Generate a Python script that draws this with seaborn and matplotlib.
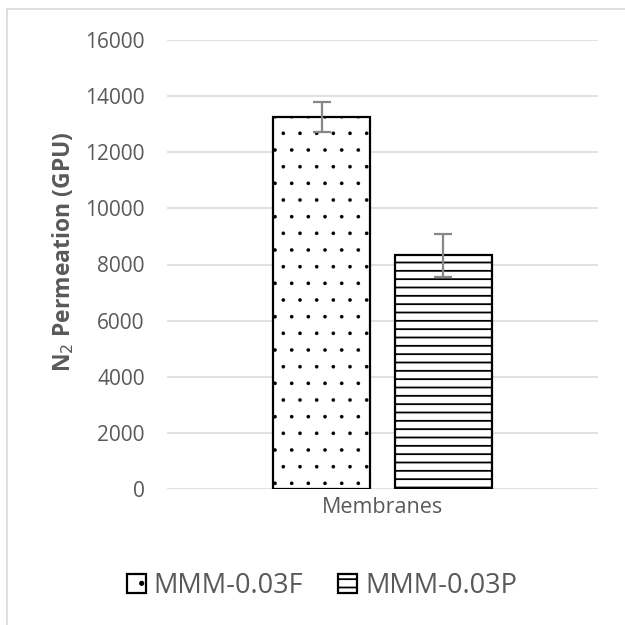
import pandas as pd
import matplotlib.pyplot as plt
import seaborn as sns
from matplotlib.lines import Line2D

# --- datos ---
CATEGORY = ['Membranes', 'Membranes']
MEMBRANES = ['MMM-0.03F', 'MMM-0.03P']
PERMEATION = [13260, 8330]
ERRORS = [535, 770]
HATCHES = ['.', '--']

sns.set_theme(style="white")
plt.rcParams.update({
    'font.family': ['Open Sans', 'DejaVu Sans'],
    'hatch.linewidth': 1.3,
    'hatch.color': 'black',
})

df = pd.DataFrame({'x': CATEGORY, 'Membrana': MEMBRANES, 'N2': PERMEATION})

fig = plt.figure(figsize=(6.25, 6.25), dpi=100)
ax = fig.add_axes([167 / 625, 1 - 489 / 625, (598 - 167) / 625, (489 - 40) / 625])

sns.barplot(data=df, x='x', y='N2', hue='Membrana', hue_order=MEMBRANES,
            palette=['white', 'white'], width=0.566, gap=0.205,
            errorbar=None, edgecolor='black', linewidth=1.6, legend=False, ax=ax)

bars = ax.patches[:2]
for bar, h, err in zip(bars, HATCHES, ERRORS):
    bar.set_hatch(h)
    if h == '.':
        try:
            bar.set_hatch_linewidth(0.2)
        except AttributeError:
            pass
    cx = bar.get_x() + bar.get_width() / 2
    ax.errorbar(cx, bar.get_height(), yerr=err, color='#878787',
                elinewidth=1.6, capsize=6.5, capthick=1.6, zorder=5)

ax.set_xlim(-0.5, 0.5)
ax.set_ylim(0, 16000)
ax.set_yticks(range(0, 16001, 2000))
ax.grid(axis='y', color='#d9d9d9', linewidth=1.1)
ax.set_axisbelow(True)
for s in ax.spines.values():
    s.set_visible(False)

ax.tick_params(axis='y', colors='#595959', labelsize=15, length=0, pad=16)
ax.tick_params(axis='x', colors='#595959', labelsize=15.5, length=0, pad=6)
ax.set_xlabel('')
ax.set_ylabel('N$_2$ Permeation (GPU)', color='#595959', fontsize=16.5,
              fontweight='bold')
ax.yaxis.set_label_coords(-0.21, 0.528)

leg = fig.legend(handles=bars, labels=MEMBRANES, loc='center',
                 bbox_to_anchor=(322 / 625, 1 - 586 / 625), ncol=2, frameon=False,
                 fontsize=19.5, handlelength=0.7, handleheight=0.7,
                 handletextpad=0.3, columnspacing=1.3, labelcolor='#595959')

# marco del gráfico (estilo Excel)
fig.add_artist(Line2D([7 / 625, 7 / 625], [0, 1 - 9 / 625], color='#d9d9d9', linewidth=1.2))
fig.add_artist(Line2D([7 / 625, 1], [1 - 9 / 625, 1 - 9 / 625], color='#d9d9d9', linewidth=1.2))

fig.savefig('out.png', dpi=100)
